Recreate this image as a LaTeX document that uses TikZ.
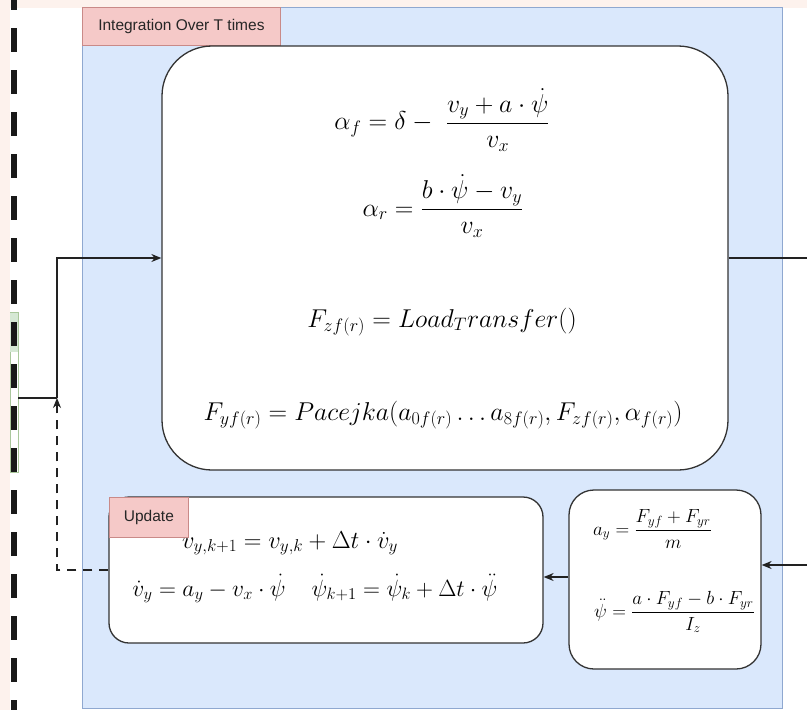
\RequirePackage{fix-cm}
\documentclass[tikz,border=0pt]{standalone}
\usepackage{amsmath}
\usepackage{fontspec}
\newfontfamily\labfont{Liberation Sans}
\usetikzlibrary{arrows.meta}
\definecolor{bluefill}{HTML}{DAE8FC}
\definecolor{blueline}{HTML}{8FA8D0}
\definecolor{labfill}{HTML}{F5C9C8}
\definecolor{labline}{HTML}{C98A88}
\definecolor{pinkbg}{HTML}{FDF2ED}
\definecolor{greenfill}{HTML}{D5E8D4}
\definecolor{greenline}{HTML}{A9C79B}
\definecolor{boxline}{HTML}{333333}
\definecolor{linecol}{HTML}{222222}
\tikzset{
  eqn/.style={inner sep=0pt, text=black},
  bigeq/.style={eqn, font=\fontsize{25.8}{31}\selectfont},
  upda/.style={eqn, font=\fontsize{24.5}{29}\selectfont},
  updb/.style={eqn, font=\fontsize{23.5}{28}\selectfont},
  acceq/.style={eqn, font=\fontsize{19}{23}\selectfont},
  box/.style={draw=boxline, fill=white, line width=1.3pt, inner sep=0pt},
  lab/.style={draw=labline, fill=labfill, line width=0.8pt, inner sep=0pt,
    font=\labfont\fontsize{15.5}{18}\selectfont, text=black!85, anchor=north west},
  arr/.style={-{Stealth[length=10pt,width=8pt]}, line width=1.1pt, draw=linecol},
  plain/.style={line width=1.1pt, draw=linecol}
}
\begin{document}
\begin{tikzpicture}[x=1pt,y=-1pt]
\useasboundingbox (0,0) rectangle (807,710);
\fill[white] (0,0) rectangle (807,710);
% background strips
\fill[pinkbg] (0,0) rectangle (807,8);
\fill[pinkbg] (0,0) rectangle (10,710);
% green box at left
\node[draw=greenline, fill=white, line width=0.8pt, inner sep=0pt, minimum width=8pt, minimum height=160pt] (grn) at (14,392) {};
\fill[greenfill] (10,313) rectangle (17.6,352);
% thick dashed line
\draw[line width=5.5pt, black!90, dash pattern=on 24pt off 18pt] (13.8,-14) -- (13.8,730);
% container
\node[draw=blueline, fill=bluefill, line width=1pt, inner sep=0pt, minimum width=700pt, minimum height=701pt, anchor=north west] (cont) at (82,7) {};
\node[lab, minimum width=198pt, minimum height=38pt] (tlab) at (82,7) {Integration Over T times};
% main box
\node[box, rounded corners=50pt, minimum width=566pt, minimum height=424pt] (main) at (445,258) {};
\node[bigeq, anchor=base] (e1) at (442,129.5) {$\displaystyle \alpha_f = \delta -\ \frac{v_y + a\cdot\dot{\psi}}{v_x}$};
\node[bigeq, anchor=base] (e2) at (443,216) {$\displaystyle \alpha_r = \frac{b\cdot\dot{\psi} - v_y}{v_x}$};
\node[bigeq, anchor=base] (e3) at (442,327) {$F_{zf(r)} = Load_Transfer()$};
\node[bigeq, anchor=base] (e4) at (443,420) {$F_{yf(r)} = Pacejka(a_{0f(r)}\dots a_{8f(r)}, F_{zf(r)}, \alpha_{f(r)})$};
% update box
\node[box, rounded corners=20pt, minimum width=434pt, minimum height=146pt] (upd) at (326,570) {};
\node[upda, anchor=base] (u1) at (290,548) {$v_{y,k+1} = v_{y,k} + \Delta t\cdot\dot{v}_y$};
\node[updb, anchor=base] (u2) at (315,596) {$\dot{v}_y = a_y - v_x\cdot\dot{\psi}\hspace{1.1em}\dot{\psi}_{k+1} = \dot{\psi}_k + \Delta t\cdot\ddot{\psi}$};
\node[lab, minimum width=79pt, minimum height=40pt] (ulab) at (109,497) {Update};
% acceleration box
\node[box, rounded corners=25pt, minimum width=192pt, minimum height=179pt] (acc) at (665,579.5) {};
\node[acceq, anchor=base west] (a1) at (593,535) {$\displaystyle a_y = \frac{F_{yf}+F_{yr}}{m}$};
\node[acceq, anchor=base west] (a2) at (594,617) {$\displaystyle \ddot{\psi} = \frac{a\cdot F_{yf} - b\cdot F_{yr}}{I_z}$};
% connectors
\coordinate (j) at (57,398);
\coordinate (rout) at (807,258);
\coordinate (rin) at (807,565);
\draw[plain] (grn.east |- j) -- (j);
\draw[arr] (j) |- (main.west);
\draw[arr, dash pattern=on 9pt off 7pt] (upd.west) -| (j);
\draw[plain] (main.east) -- (rout);
\draw[arr] (rin) -- (rin -| acc.east);
\draw[arr] (acc.west |- 0,577) -- (upd.east |- 0,577);
\end{tikzpicture}
\end{document}
